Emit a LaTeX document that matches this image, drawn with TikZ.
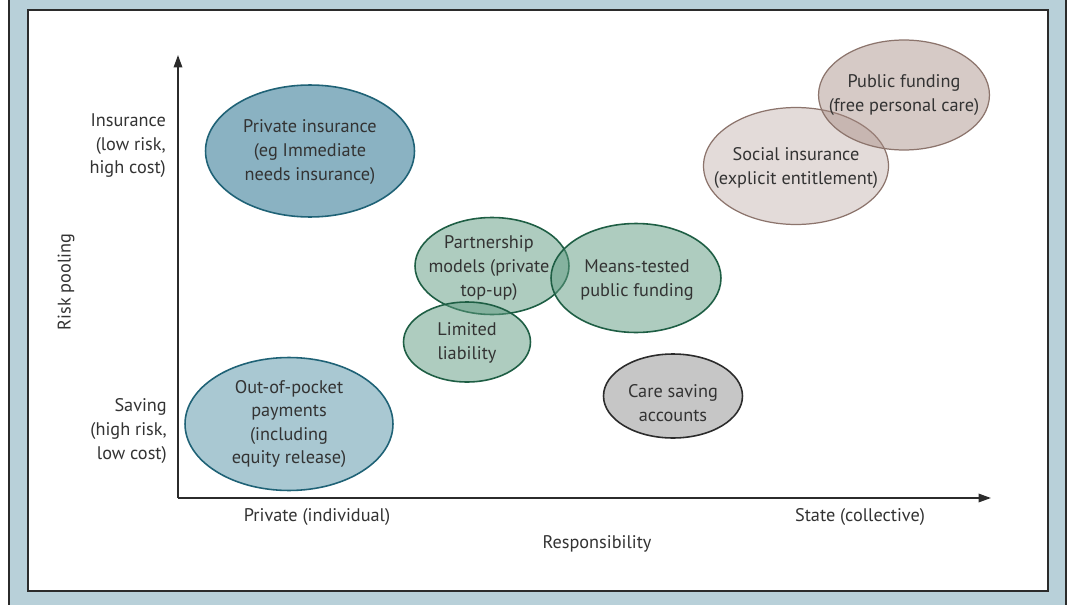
\documentclass[tikz,border=0pt]{standalone}
\usepackage{fontspec}
\setmainfont{PT Sans}
\usetikzlibrary{arrows.meta,shapes.geometric,positioning}

\definecolor{panelblue}{HTML}{B8D0D9}
\definecolor{framegray}{HTML}{2B2B2B}
\definecolor{textgray}{HTML}{333333}
\definecolor{privblue}{HTML}{8AB2C2}
\definecolor{pocketblue}{HTML}{A9C8D2}
\definecolor{blueline}{HTML}{1F6276}
\definecolor{greenfill}{HTML}{5E9A80}
\definecolor{greenline}{HTML}{1E5E44}
\definecolor{savegray}{HTML}{C6C6C6}
\definecolor{rosefill}{HTML}{A58A82}
\definecolor{roseline}{HTML}{8C746C}

\tikzset{
	bubble/.style={ellipse, draw, line width=0.9pt, inner sep=0pt},
	bubbletext/.style={align=center, inner sep=0pt, text=textgray, font=\fontsize{10.4pt}{13.4pt}\selectfont},
	axislabel/.style={text=textgray, font=\fontsize{10.4pt}{13.4pt}\selectfont},
	axis/.style={line width=1pt, framegray, -{Triangle[length=0.25cm, width=0.17cm]}},
}

\begin{document}
\begin{tikzpicture}[x=0.02cm, y=-0.02cm]

		\useasboundingbox (0,0) rectangle (1069,605);

		% panel and inner frame
		\begin{scope}
			\clip (0,0) rectangle (1069,605);
			\draw[framegray, line width=0.8pt, fill=panelblue] (9,-10) rectangle (1066,615);
		\end{scope}
		\draw[framegray, line width=1.1pt, fill=white] (28,10) rectangle (1048,591);

		% axes
		\coordinate (origin) at (178,498);
		\coordinate (ytip) at (178,55);
		\coordinate (xtip) at (991,498);
		\draw[axis] (origin) -- (ytip);
		\draw[axis] (origin) -- (xtip);

		% axis labels
		\node[axislabel, align=right, anchor=east] (insur) at (172,146) {Insurance\\(low risk,\\high cost)};
		\node[axislabel, align=right, anchor=east] (saving) at (173,431) {Saving\\(high risk,\\low cost)};
		\node[axislabel, rotate=90] (riskpool) at (66,282) {Risk pooling};
		\node[axislabel] (private) at (317,517) {Private (individual)};
		\node[axislabel] (state) at (860,517) {State (collective)};
		\node[axislabel] (respons) at (597,544) {Responsibility};

		% blue: private side
		\node[bubble, draw=blueline, fill=privblue, minimum width=4.18cm, minimum height=2.64cm] (privins) at (310,151) {};
		\node[bubble, draw=blueline, fill=pocketblue, minimum width=4.16cm, minimum height=2.66cm] (pocket) at (289,424) {};

		% green: mixed models
		\node[bubble, draw=greenline, fill=greenfill, fill opacity=0.5, minimum width=3.08cm, minimum height=1.94cm] (partner) at (492,266) {};
		\node[bubble, draw=greenline, fill=greenfill, fill opacity=0.5, minimum width=3.4cm, minimum height=2.18cm] (means) at (636,278) {};
		\node[bubble, draw=greenline, fill=greenfill, fill opacity=0.5, minimum width=2.54cm, minimum height=1.6cm] (limited) at (467,342) {};

		% grey
		\node[bubble, draw=framegray, fill=savegray, minimum width=2.78cm, minimum height=1.68cm] (caresave) at (673,396) {};

		% rose: state side
		\node[bubble, draw=roseline, line width=0.7pt, fill=rosefill, fill opacity=0.3, minimum width=3.7cm, minimum height=2.34cm] (social) at (796,166) {};
		\node[bubble, draw=roseline, line width=0.7pt, fill=rosefill, fill opacity=0.45, minimum width=3.42cm, minimum height=2.2cm] (pubfund) at (904,95) {};

		% texts on the bubbles
		\node[bubbletext] (privins-txt) at (310,152) {Private insurance\\(eg Immediate\\needs insurance)};
		\node[bubbletext] (pocket-txt) at (289,424) {Out-of-pocket\\payments\\(including\\equity release)};
		\node[bubbletext] (partner-txt) at (489,268) {Partnership\\models (private\\top-up)};
		\node[bubbletext] (means-txt) at (637,280) {Means-tested\\public funding};
		\node[bubbletext] (limited-txt) at (467,343) {Limited\\liability};
		\node[bubbletext] (caresave-txt) at (673,403) {Care saving\\accounts};
		\node[bubbletext] (social-txt) at (796,168) {Social insurance\\(explicit entitlement)};
		\node[bubbletext] (pubfund-txt) at (904,95) {Public funding\\(free personal care)};

\end{tikzpicture}
\end{document}
